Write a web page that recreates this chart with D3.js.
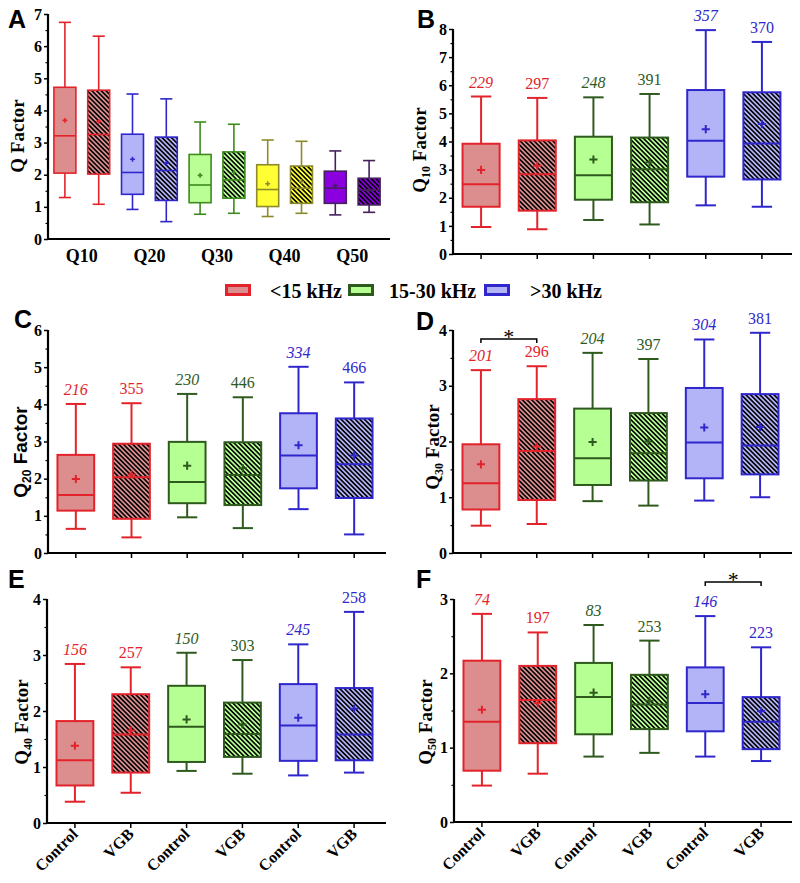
<!DOCTYPE html>
<html><head><meta charset="utf-8">
<script src="https://cdn.jsdelivr.net/npm/d3@7"></script>
<style>body{margin:0;background:#fff}</style>
</head><body>
<svg id="c" width="800" height="883"></svg>
<script>
// ---------- data ----------
const qLabels = ["Q10","Q20","Q30","Q40","Q50"];
const groupLabels = ["Control","VGB","Control","VGB","Control","VGB"];
const legendLabels = ["<15 kHz","15-30 kHz",">30 kHz"];
// each row: [whiskerLow, q1, median, q3, whiskerHigh, mean]
const statsA = [
 [1.29,2.05,3.21,4.72,6.74,3.69],
 [1.08,2.02,3.25,4.63,6.31,3.66],
 [0.92,1.39,2.07,3.26,4.51,2.48],
 [0.54,1.20,2.13,3.17,4.36,2.36],
 [0.77,1.13,1.68,2.63,3.64,1.98],
 [0.80,1.27,1.84,2.71,3.57,2.07],
 [0.70,1.01,1.54,2.31,3.08,1.72],
 [0.80,1.11,1.58,2.27,3.04,1.79],
 [0.75,1.11,1.58,2.11,2.74,1.66],
 [0.83,1.06,1.52,1.89,2.44,1.53]
];
const statsB = [
 [0.96,1.68,2.48,3.92,5.60,2.99],
 [0.88,1.54,2.84,4.04,5.55,3.14],
 [1.21,1.93,2.80,4.17,5.57,3.36],
 [1.05,1.84,3.01,4.14,5.69,3.26],
 [1.73,2.75,4.03,5.83,7.96,4.44],
 [1.68,2.65,3.93,5.75,7.54,4.62]
];
const statsC = [
 [0.65,1.14,1.56,2.64,4.01,1.99],
 [0.42,0.92,2.04,2.94,4.03,2.11],
 [0.96,1.34,1.91,2.99,4.28,2.35],
 [0.67,1.29,2.10,2.98,4.19,2.28],
 [1.18,1.74,2.62,3.76,5.01,2.90],
 [0.50,1.48,2.39,3.62,4.59,2.62]
];
const statsD = [
 [0.49,0.78,1.25,1.95,3.28,1.59],
 [0.52,0.95,1.83,2.76,3.35,1.91],
 [0.93,1.22,1.70,2.59,3.59,1.99],
 [0.85,1.30,1.79,2.51,3.48,2.00],
 [0.94,1.34,1.98,2.96,3.83,2.25],
 [1.00,1.41,1.93,2.85,3.95,2.26]
];
const statsE = [
 [0.38,0.67,1.12,1.82,2.84,1.38],
 [0.54,0.90,1.58,2.30,2.78,1.65],
 [0.93,1.09,1.72,2.45,3.04,1.85],
 [0.88,1.18,1.59,2.15,2.91,1.76],
 [0.85,1.11,1.74,2.48,3.19,1.88],
 [0.90,1.12,1.58,2.41,3.77,2.04]
];
const statsF = [
 [0.49,0.69,1.35,2.17,2.80,1.51],
 [0.65,1.06,1.64,2.10,2.55,1.60],
 [0.88,1.18,1.68,2.14,2.65,1.74],
 [0.93,1.25,1.58,1.98,2.44,1.63],
 [0.88,1.22,1.60,2.08,2.77,1.72],
 [0.82,0.98,1.35,1.68,2.35,1.49]
];
const countsB = ["229","297","248","391","357","370"];
const countsC = ["216","355","230","446","334","466"];
const countsD = ["201","296","204","397","304","381"];
const countsE = ["156","257","150","303","245","258"];
const countsF = ["74","197","83","253","146","223"];

// ---------- styles ----------
const palette = {
  red:    {stroke:"#e3232b", fill:"#dc8e8e"},
  blue:   {stroke:"#2f27cc", fill:"#b3b3f7"},
  greenA: {stroke:"#3d8a1d", fill:"#baff96"},
  green:  {stroke:"#2f5a1e", fill:"#b6ff92"},
  yellow: {stroke:"#8c8a2a", fill:"#ffff33"},
  purple: {stroke:"#45205e", fill:"#8a00de"}
};
const colorsA = ["red","red","blue","blue","greenA","greenA","yellow","yellow","purple","purple"];
const colorsBF = ["red","red","green","green","blue","blue"];
const serif = "'Liberation Serif','Times New Roman',serif";
const sans = "'Liberation Sans',Arial,sans-serif";

const svg = d3.select("#c");
const defs = svg.append("defs");
Object.entries(palette).forEach(([k,c]) => {
  const p = defs.append("pattern").attr("id","h-"+k)
    .attr("patternUnits","userSpaceOnUse").attr("width",3.3).attr("height",10)
    .attr("patternTransform","rotate(-45)");
  p.append("rect").attr("width",3.3).attr("height",10).attr("fill",c.fill);
  p.append("line").attr("x1",0.8).attr("x2",0.8).attr("y1",0).attr("y2",10)
    .attr("stroke","#000").attr("stroke-width",1.6);
});

function panel(cfg) {
  const g = svg.append("g");
  const n = cfg.stats.length;
  const x = d3.scaleBand().domain(d3.range(n)).range([cfg.x0, cfg.bandEnd]);
  const y = d3.scaleLinear().domain([0, cfg.yMax]).range([cfg.yB, cfg.yT]);
  const bw = x.step()*cfg.boxFrac;
  const cap = bw*0.55;
  const plus = bw*0.22;
  const sw = cfg.sw;

  // y axis
  const ya = g.append("g").attr("transform",`translate(${cfg.x0},0)`)
    .call(d3.axisLeft(y).ticks(cfg.yMax).tickSize(4).tickPadding(2).tickFormat(d3.format("d")));
  ya.select(".domain").attr("stroke-width",2.2).attr("d",`M0,${cfg.yB+1}V${cfg.yT}`);
  ya.selectAll(".tick line").attr("stroke-width",1.5);
  ya.selectAll(".tick text").attr("font-family",serif).attr("font-weight","bold").attr("font-size",16).attr("fill","#000");
  const minor = d3.range(0.5, cfg.yMax, 1);
  g.append("g").attr("transform",`translate(${cfg.x0},0)`)
    .call(d3.axisLeft(y).tickValues(minor).tickSize(2.5).tickFormat(""))
    .call(s=>s.select(".domain").remove())
    .selectAll(".tick line").attr("stroke-width",1.2);

  // x axis
  const xa = g.append("g").attr("transform",`translate(0,${cfg.yB})`)
    .call(d3.axisBottom(x).tickSize(cfg.xTicks?5:0).tickFormat(""));
  xa.select(".domain").attr("stroke-width",2.2).attr("d",`M${cfg.x0-1},0H${cfg.xEnd}`);
  xa.selectAll(".tick line").attr("stroke-width",1.5);

  // boxes
  cfg.stats.forEach((s,i) => {
    const [lo,q1,md,q3,hi,mn] = s;
    const c = palette[cfg.colors[i]];
    const cx = x(i) + x.bandwidth()/2;
    const hatched = i%2===1;
    const b = g.append("g").attr("stroke",c.stroke).attr("stroke-width",sw).attr("fill","none");
    b.append("line").attr("x1",cx).attr("x2",cx).attr("y1",y(hi)).attr("y2",y(q3));
    b.append("line").attr("x1",cx).attr("x2",cx).attr("y1",y(q1)).attr("y2",y(lo));
    b.append("line").attr("x1",cx-cap/2).attr("x2",cx+cap/2).attr("y1",y(hi)).attr("y2",y(hi));
    b.append("line").attr("x1",cx-cap/2).attr("x2",cx+cap/2).attr("y1",y(lo)).attr("y2",y(lo));
    b.append("rect").attr("x",cx-bw/2).attr("width",bw).attr("y",y(q3)).attr("height",y(q1)-y(q3))
      .attr("fill", hatched ? `url(#h-${cfg.colors[i]})` : c.fill);
    b.append("line").attr("x1",cx-bw/2).attr("x2",cx+bw/2).attr("y1",y(md)).attr("y2",y(md));
    b.append("path").attr("d",`M${cx-plus/2},${y(mn)}h${plus}M${cx},${y(mn)-plus/2}v${plus}`);
    if (cfg.counts) {
      g.append("text").attr("x",cx).attr("y",y(hi)-9).attr("text-anchor","middle")
        .attr("font-family",serif).attr("font-size",16).attr("font-style", i%2===0?"italic":"normal")
        .attr("fill",c.stroke).text(cfg.counts[i]);
    }
  });

  // x labels
  if (cfg.xLabels === "Q") {
    qLabels.forEach((t,k) => {
      const cx = (x(2*k)+x(2*k+1))/2 + x.bandwidth()/2;
      g.append("text").attr("x",cx).attr("y",cfg.yB+23).attr("text-anchor","middle")
        .attr("font-family",serif).attr("font-weight","bold").attr("font-size",18).text(t);
    });
  } else if (cfg.xLabels === "groups") {
    groupLabels.forEach((t,i) => {
      const cx = x(i)+x.bandwidth()/2;
      g.append("text").attr("transform",`translate(${cx+4},${cfg.yB+12}) rotate(-45)`)
        .attr("text-anchor","end").attr("font-family",serif).attr("font-weight","bold")
        .attr("font-size",16).text(t);
    });
  }

  // significance bracket
  if (cfg.bracket) {
    const [i0,i1,by] = cfg.bracket;
    const xa0 = x(i0)+x.bandwidth()/2, xa1 = x(i1)+x.bandwidth()/2;
    g.append("path").attr("d",`M${xa0},${by+4}V${by}H${xa1}V${by+4}`)
      .attr("fill","none").attr("stroke","#000").attr("stroke-width",1.5);
    g.append("text").attr("x",(xa0+xa1)/2).attr("y",by+5).attr("text-anchor","middle")
      .attr("font-family",serif).attr("font-size",22).text("*");
  }

  // y title
  const t = g.append("text").attr("transform",`translate(${cfg.tx},${cfg.ty}) rotate(-90)`)
    .attr("text-anchor","middle").attr("dy","0.35em")
    .attr("font-family", cfg.titleSans ? sans : serif).attr("font-weight","bold").attr("font-size",19);
  t.append("tspan").text("Q");
  if (cfg.sub) t.append("tspan").attr("font-size",12).attr("dy",4).text(cfg.sub);
  t.append("tspan").attr("dy", cfg.sub ? -4 : 0).text(" Factor");

  // panel letter
  svg.append("text").attr("x",cfg.lx).attr("y",cfg.ly).attr("font-family",sans)
    .attr("font-weight","bold").attr("font-size",25).text(cfg.letter);
}

panel({letter:"A",lx:8,ly:28,stats:statsA,colors:colorsA,x0:48,bandEnd:386,xEnd:390,yB:239,yT:14,yMax:7,
  boxFrac:0.65,sw:1.6,xTicks:false,xLabels:"Q",tx:17,ty:136});
panel({letter:"B",lx:417,ly:28,stats:statsB,colors:colorsBF,counts:countsB,x0:453,bandEnd:790,xEnd:792,yB:254,yT:29,yMax:8,
  boxFrac:0.66,sw:2,xTicks:true,tx:419,ty:150,sub:"10"});
panel({letter:"C",lx:14,ly:328,stats:statsC,colors:colorsBF,counts:countsC,x0:48,bandEnd:382,xEnd:386,yB:553,yT:330,yMax:6,
  boxFrac:0.66,sw:2,xTicks:true,tx:20,ty:452,sub:"20",titleSans:true});
panel({letter:"D",lx:416,ly:330,stats:statsD,colors:colorsBF,counts:countsD,x0:453,bandEnd:788,xEnd:792,yB:553,yT:330,yMax:4,
  boxFrac:0.66,sw:2,xTicks:true,tx:432,ty:447,sub:"30",bracket:[0,1,339]});
panel({letter:"E",lx:8,ly:588,stats:statsE,colors:colorsBF,counts:countsE,x0:47,bandEnd:382,xEnd:386,yB:823,yT:599,yMax:4,
  boxFrac:0.66,sw:2,xTicks:true,xLabels:"groups",tx:21,ty:722,sub:"40"});
panel({letter:"F",lx:416,ly:588,stats:statsF,colors:colorsBF,counts:countsF,x0:454,bandEnd:789,xEnd:792,yB:822,yT:599,yMax:3,
  boxFrac:0.66,sw:2,xTicks:true,xLabels:"groups",tx:425,ty:722,sub:"50",bracket:[4,5,582]});

// legend
const legColors = ["red","green","blue"];
const legX = [225,348,484];
const legTX = [270,389,530];
legendLabels.forEach((t,i) => {
  const c = palette[legColors[i]];
  svg.append("rect").attr("x",legX[i]+1.5).attr("y",285.5).attr("width",23).attr("height",9)
    .attr("fill",c.fill).attr("stroke",c.stroke).attr("stroke-width",3);
  svg.append("text").attr("x",legTX[i]).attr("y",298).attr("font-family",serif)
    .attr("font-weight","bold").attr("font-size",20).text(t);
});
</script>
</body></html>
